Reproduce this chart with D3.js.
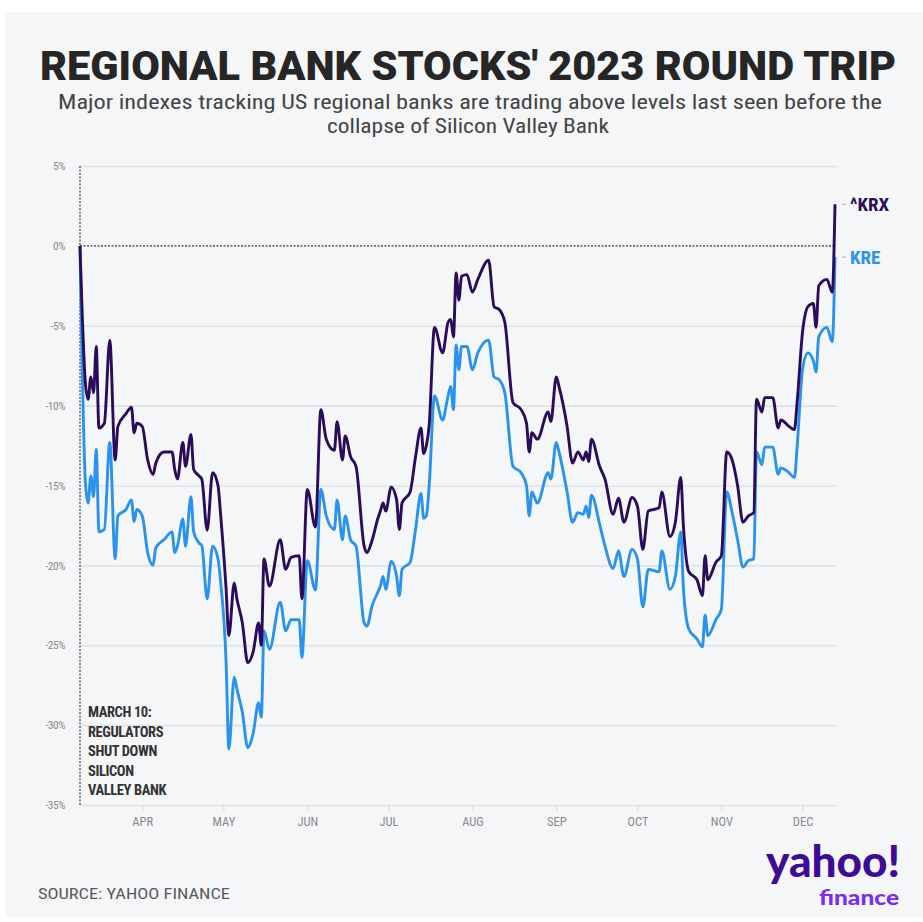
<!DOCTYPE html>
<html>
<head>
<meta charset="utf-8">
<script src="https://cdn.jsdelivr.net/npm/d3@7"></script>
<style>
  html, body { margin: 0; padding: 0; background: #ffffff; }
  svg { display: block; }
</style>
</head>
<body>
<svg id="chart" width="923" height="922"></svg>
<script>
// ---------- DATA ----------
const dates = [
  "2023-03-09","2023-03-11","2023-03-12","2023-03-13","2023-03-14","2023-03-15","2023-03-16","2023-03-18","2023-03-20","2023-03-22",
  "2023-03-23","2023-03-26","2023-03-28","2023-03-29","2023-03-30","2023-04-01","2023-04-03","2023-04-05","2023-04-06","2023-04-09",
  "2023-04-12","2023-04-13","2023-04-14","2023-04-16","2023-04-17","2023-04-19","2023-04-20","2023-04-22","2023-04-23","2023-04-25",
  "2023-04-27","2023-04-29","2023-04-30","2023-05-02","2023-05-03","2023-05-05","2023-05-06","2023-05-08","2023-05-10","2023-05-12",
  "2023-05-14","2023-05-15","2023-05-16","2023-05-18","2023-05-22","2023-05-24","2023-05-26","2023-05-29","2023-05-30","2023-06-01",
  "2023-06-04","2023-06-06","2023-06-08","2023-06-11","2023-06-12","2023-06-14","2023-06-15","2023-06-17","2023-06-19","2023-06-22",
  "2023-06-23","2023-06-25","2023-06-27","2023-06-28","2023-06-29","2023-06-30","2023-07-02","2023-07-04","2023-07-05","2023-07-06",
  "2023-07-09","2023-07-11","2023-07-13","2023-07-14","2023-07-15","2023-07-16","2023-07-18","2023-07-21","2023-07-23","2023-07-24",
  "2023-07-25","2023-07-26","2023-07-27","2023-07-28","2023-07-30","2023-08-01","2023-08-03","2023-08-07","2023-08-09","2023-08-11",
  "2023-08-13","2023-08-16","2023-08-19","2023-08-21","2023-08-22","2023-08-23","2023-08-25","2023-08-29","2023-08-30","2023-09-01",
  "2023-09-02","2023-09-05","2023-09-07","2023-09-09","2023-09-11","2023-09-12","2023-09-13","2023-09-14","2023-09-17","2023-09-19",
  "2023-09-22","2023-09-24","2023-09-26","2023-09-29","2023-10-01","2023-10-03","2023-10-05","2023-10-09","2023-10-10","2023-10-13",
  "2023-10-15","2023-10-17","2023-10-18","2023-10-20","2023-10-23","2023-10-25","2023-10-26","2023-10-27","2023-10-30","2023-11-01",
  "2023-11-03","2023-11-05","2023-11-07","2023-11-09","2023-11-11","2023-11-13","2023-11-14","2023-11-16","2023-11-17","2023-11-20",
  "2023-11-22","2023-11-23","2023-11-26","2023-11-28","2023-11-29","2023-12-01","2023-12-03","2023-12-05","2023-12-06","2023-12-07",
  "2023-12-10","2023-12-12","2023-12-13"
];
const krx = [
  0, -8.6, -9.6, -8.2, -9.2, -6.3, -11.4, -11.1, -5.9, -13.4,
  -11.3, -10.5, -10.1, -11.7, -11.1, -11.3, -13.4, -14.3, -13.6, -12.9,
  -12.9, -14.0, -14.6, -12.3, -13.8, -11.8, -14.0, -14.4, -14.6, -17.8,
  -14.2, -15.0, -16.9, -21.5, -24.4, -21.1, -22.1, -23.6, -26.1, -25.4,
  -23.6, -25.0, -19.6, -21.3, -18.4, -20.25, -19.5, -19.4, -22.1, -15.25,
  -17.6, -10.25, -12.1, -12.8, -11.0, -13.4, -11.9, -13.2, -13.8, -18.8,
  -19.2, -18.4, -17.1, -16.6, -16.1, -16.6, -15.1, -15.9, -17.75, -16.1,
  -15.4, -13.2, -11.4, -13.0, -12.5, -11.3, -5.1, -6.7, -4.8, -4.6,
  -5.7, -1.7, -3.4, -1.9, -1.8, -2.9, -2.1, -0.9, -3.8, -4.0,
  -4.8, -9.8, -10.25, -11.1, -12.9, -11.7, -12.1, -10.4, -11.0, -8.2,
  -8.8, -11.3, -13.6, -12.9, -13.4, -12.9, -13.5, -12.1, -13.8, -14.6,
  -16.8, -15.8, -17.3, -15.75, -16.3, -19.0, -16.6, -16.4, -15.4, -18.2,
  -17.3, -14.5, -17.6, -20.4, -20.9, -21.9, -19.4, -20.9, -19.8, -19.4,
  -12.9, -13.4, -15.0, -17.3, -16.9, -16.7, -9.6, -10.4, -9.5, -9.5,
  -11.4, -10.9, -11.3, -11.5, -9.8, -5.4, -3.8, -3.6, -5.1, -2.5,
  -2.1, -2.9, 2.6
];
const kre = [
  0, -14.8, -16.1, -14.4, -15.7, -12.75, -17.9, -17.75, -12.3, -19.6,
  -16.9, -16.5, -15.9, -17.25, -16.5, -16.9, -19.2, -20.0, -18.9, -18.4,
  -17.9, -19.2, -18.8, -17.1, -18.8, -15.7, -17.9, -18.6, -18.75, -22.1,
  -18.8, -19.6, -21.1, -26.1, -31.5, -27.0, -27.75, -29.2, -31.4, -30.5,
  -28.6, -29.5, -24.1, -25.25, -22.3, -24.1, -23.4, -23.4, -25.75, -19.7,
  -21.55, -15.25, -16.9, -17.75, -15.9, -18.4, -16.9, -18.4, -18.8, -23.6,
  -23.8, -22.5, -21.7, -21.3, -20.7, -21.5, -19.75, -20.7, -21.9, -20.25,
  -19.8, -17.75, -15.5, -17.05, -16.9, -15.1, -9.4, -10.9, -9.4, -8.8,
  -10.25, -6.2, -7.75, -6.3, -6.3, -7.75, -6.7, -5.9, -8.2, -8.4,
  -9.2, -13.8, -14.2, -15.0, -16.9, -15.4, -16.1, -14.2, -14.6, -12.3,
  -12.9, -15.4, -17.3, -16.7, -16.8, -16.3, -17.0, -15.6, -17.4, -18.8,
  -20.2, -19.1, -20.7, -19.0, -19.6, -22.6, -20.25, -20.4, -19.1, -21.5,
  -20.7, -17.9, -21.5, -24.0, -24.6, -25.1, -23.1, -24.4, -23.4, -22.75,
  -15.4, -16.7, -18.4, -20.1, -19.7, -19.6, -12.9, -13.7, -12.6, -12.6,
  -14.3, -13.9, -14.2, -14.5, -12.6, -7.75, -6.7, -7.2, -7.9, -5.7,
  -5.1, -6.0, -0.7
];
const seriesNames = ["^KRX", "KRE"];
const yTicks = [5, 0, -5, -10, -15, -20, -25, -30, -35];
const monthTicks = ["2023-04-01","2023-05-01","2023-06-01","2023-07-01","2023-08-01","2023-09-01","2023-10-01","2023-11-01","2023-12-01"];
const monthLabels = ["APR","MAY","JUN","JUL","AUG","SEP","OCT","NOV","DEC"];
const annotationLines = ["MARCH 10:", "REGULATORS", "SHUT DOWN", "SILICON", "VALLEY BANK"];
const titleText = "REGIONAL BANK STOCKS' 2023 ROUND TRIP";
const subtitleLines = ["Major indexes tracking US regional banks are trading above levels last seen before the", "collapse of Silicon Valley Bank"];
const sourceText = "SOURCE: YAHOO FINANCE";

// ---------- SETUP ----------
const parse = d3.timeParse("%Y-%m-%d");
const svg = d3.select("#chart");
const COND = "'Liberation Sans Narrow','Roboto Condensed','Roboto',sans-serif";
const colKRX = "#2b0c5c", colKRE = "#2a93ee";

svg.append("rect").attr("x", 5).attr("y", 12).attr("width", 918).attr("height", 905).attr("fill", "#f5f6f8");

const x = d3.scaleTime().domain([parse(dates[0]), parse(dates[dates.length - 1])]).range([80, 835]);
const y = d3.scaleLinear().domain([-35, 5]).range([805, 166]);

// Gridlines
const grid = svg.append("g").attr("transform", "translate(80,0)")
  .call(d3.axisLeft(y).tickValues(yTicks.filter(v => v !== 0)).tickSize(-757).tickFormat(""));
grid.select(".domain").remove();
grid.selectAll("line").attr("stroke", "#e1e2e6").attr("stroke-width", 1.6);

// Y labels
const yAx = svg.append("g").attr("transform", "translate(80,0)")
  .call(d3.axisLeft(y).tickValues(yTicks).tickSize(0).tickPadding(15).tickFormat(d => d + "%"));
yAx.select(".domain").remove();
yAx.selectAll("text").attr("fill", "#8a8a8e").attr("font-size", 11.5).attr("font-family", COND).attr("letter-spacing", "-0.5");

// X axis
const xAx = svg.append("g").attr("transform", "translate(0,805)")
  .call(d3.axisBottom(x).tickValues(monthTicks.map(parse)).tickSize(6).tickPadding(6)
    .tickFormat((d, i) => monthLabels[i]));
xAx.select(".domain").remove();
xAx.selectAll("line").attr("stroke", "#d4d5d9").attr("stroke-width", 1);
xAx.selectAll("text").attr("fill", "#8a8a8e").attr("font-size", 12.5).attr("font-family", COND);

// zero reference (dotted) and start vertical dotted line
svg.append("line").attr("x1", 80).attr("x2", 836).attr("y1", y(0)).attr("y2", y(0))
  .attr("stroke", "#6b6b70").attr("stroke-width", 1.6).attr("stroke-dasharray", "2,1.5");
svg.append("line").attr("x1", 80).attr("x2", 80).attr("y1", y(5)).attr("y2", y(-35))
  .attr("stroke", "#6b6b70").attr("stroke-width", 1.6).attr("stroke-dasharray", "2,1.5");

// Lines
const line = d3.line().x(d => x(d.date)).y(d => y(d.v)).curve(d3.curveMonotoneX);
const krxData = dates.map((d, i) => ({ date: parse(d), v: krx[i] }));
const kreData = dates.map((d, i) => ({ date: parse(d), v: kre[i] }));
svg.append("path").datum(kreData).attr("d", line).attr("fill", "none")
  .attr("stroke", colKRE).attr("stroke-width", 2.9).attr("stroke-linejoin", "round");
svg.append("path").datum(krxData).attr("d", line).attr("fill", "none")
  .attr("stroke", colKRX).attr("stroke-width", 2.9).attr("stroke-linejoin", "round");

// Series labels
const lastDate = parse(dates[dates.length - 1]);
[[krx[krx.length - 1], seriesNames[0], colKRX], [kre[kre.length - 1], seriesNames[1], colKRE]].forEach(([v, name, c]) => {
  svg.append("line").attr("x1", x(lastDate) + 7).attr("x2", x(lastDate) + 11).attr("y1", y(v)).attr("y2", y(v))
    .attr("stroke", "#b0b0b5").attr("stroke-width", 1);
  svg.append("text").attr("x", x(lastDate) + 15).attr("y", y(v)).attr("dy", "0.36em")
    .attr("fill", c).attr("font-size", 19).attr("font-weight", "bold").attr("font-family", COND).text(name);
});

// Annotation
svg.append("text").attr("x", 88).attr("y", 717).attr("font-family", COND).attr("font-weight", "bold")
  .attr("font-size", 14.5).attr("fill", "#333").attr("letter-spacing", "-0.4")
  .selectAll("tspan").data(annotationLines).join("tspan")
  .attr("x", 88).attr("dy", (d, i) => i === 0 ? 0 : 19.5).text(d => d);

// Title & subtitle
svg.append("text").attr("x", 468).attr("y", 80).attr("text-anchor", "middle")
  .attr("font-family", "Roboto, 'DejaVu Sans', sans-serif").attr("font-weight", 900).attr("font-size", 40)
  .attr("fill", "#262626").attr("textLength", 856).attr("lengthAdjust", "spacingAndGlyphs").text(titleText);
svg.append("text").attr("x", 470).attr("y", 109).attr("text-anchor", "middle")
  .attr("font-family", COND).attr("font-size", 20).attr("fill", "#444")
  .attr("textLength", 824).attr("lengthAdjust", "spacingAndGlyphs").text(subtitleLines[0]);
svg.append("text").attr("x", 468).attr("y", 133).attr("text-anchor", "middle")
  .attr("font-family", COND).attr("font-size", 20).attr("fill", "#444")
  .attr("textLength", 282).attr("lengthAdjust", "spacingAndGlyphs").text(subtitleLines[1]);

// Source
svg.append("text").attr("x", 38).attr("y", 899).attr("font-family", COND).attr("font-size", 15.5)
  .attr("fill", "#5a5a5e").attr("textLength", 192).attr("lengthAdjust", "spacingAndGlyphs").text(sourceText);

// Logo
svg.append("text").attr("x", 900).attr("y", 877).attr("text-anchor", "end")
  .attr("font-family", "Lato, 'Open Sans', sans-serif").attr("font-weight", 900).attr("font-size", 43)
  .attr("fill", "#3d0c95").attr("textLength", 134).attr("lengthAdjust", "spacingAndGlyphs").text("yahoo!");
svg.append("text").attr("x", 899).attr("y", 905).attr("text-anchor", "end")
  .attr("font-family", "Lato, 'Open Sans', sans-serif").attr("font-weight", 900).attr("font-size", 20)
  .attr("fill", "#7b2cf4").attr("textLength", 80).attr("lengthAdjust", "spacingAndGlyphs").text("finance");
</script>
</body>
</html>
